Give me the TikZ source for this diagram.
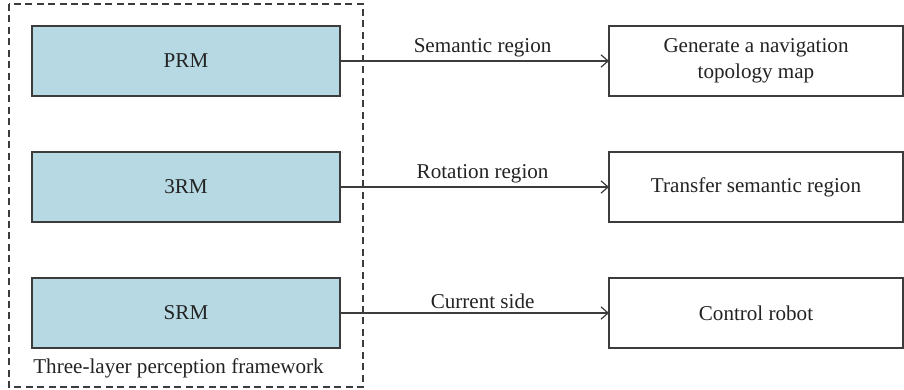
\documentclass[tikz,border=0pt]{standalone}
\usepackage{fontspec}
\setmainfont{Liberation Serif}
\usepackage{xcolor}
\usepackage{tikz}
\usetikzlibrary{
  arrows.meta,
  positioning,
  calc
}
\definecolor{LayerBlue}{RGB}{182,217,227}
\definecolor{EdgeGray}{RGB}{60,60,60}
\definecolor{TextGray}{RGB}{35,35,35}
\tikzset{
  %%── perception layers ──────────────────────────────
  layer/.style = {
    rectangle, draw = EdgeGray, fill = LayerBlue,
    line width = 0.8pt, outer sep = 0pt,
    minimum width = 6.16cm, minimum height = 1.4cm,
    align = center, font = \fontsize{12}{14.5}\selectfont, text = TextGray
  },
  %%── tasks ──────────────────────────────────────────
  task/.style = {
    rectangle, draw = EdgeGray, fill = white,
    line width = 0.8pt, outer sep = 0pt,
    minimum width = 5.88cm, minimum height = 1.4cm,
    align = center, font = \fontsize{12}{14.5}\selectfont, text = TextGray
  },
  %%── arrows and labels ──────────────────────────────
  arr/.style  = {-{Straight Barb[length=4pt, width=7pt]}, line width = 0.7pt, color = EdgeGray},
  lbl/.style  = {above, pos = 0.53, inner sep = 2pt, font = \fontsize{12}{14.5}\selectfont, text = TextGray},
  frame/.style = {dash pattern = on 4pt off 2.5pt, line width = 0.7pt, color = EdgeGray}
}
\begin{document}
\begin{tikzpicture}
  \useasboundingbox (0,0) rectangle (18.08,-7.78);
  \node[layer] (prm) at (3.72,-1.22) {PRM};
  \node[layer, below=1.12cm of prm] (trm) {3RM};
  \node[layer, below=1.12cm of trm] (srm) {SRM};
  \node[task, right=5.38cm of prm] (topo) {Generate a navigation\\topology map};
  \node[task, right=5.38cm of trm] (trans) {Transfer semantic region};
  \node[task, right=5.38cm of srm] (ctrl) {Control robot};
  \node[anchor=west, inner sep=0pt, font=\fontsize{12}{14.5}\selectfont, text=TextGray]
    (capt) at ($(srm.south west)+(0.02,-0.4)$) {Three-layer perception framework};
  \draw[frame] ($(prm.north west)+(-0.46,0.44)$) rectangle ($(srm.south east)+(0.46,-0.78)$);
  \draw[arr] (prm.east) -- node[lbl] {Semantic region} (topo.west);
  \draw[arr] (trm.east) -- node[lbl] {Rotation region} (trans.west);
  \draw[arr] (srm.east) -- node[lbl] {Current side} (ctrl.west);
\end{tikzpicture}
\end{document}
